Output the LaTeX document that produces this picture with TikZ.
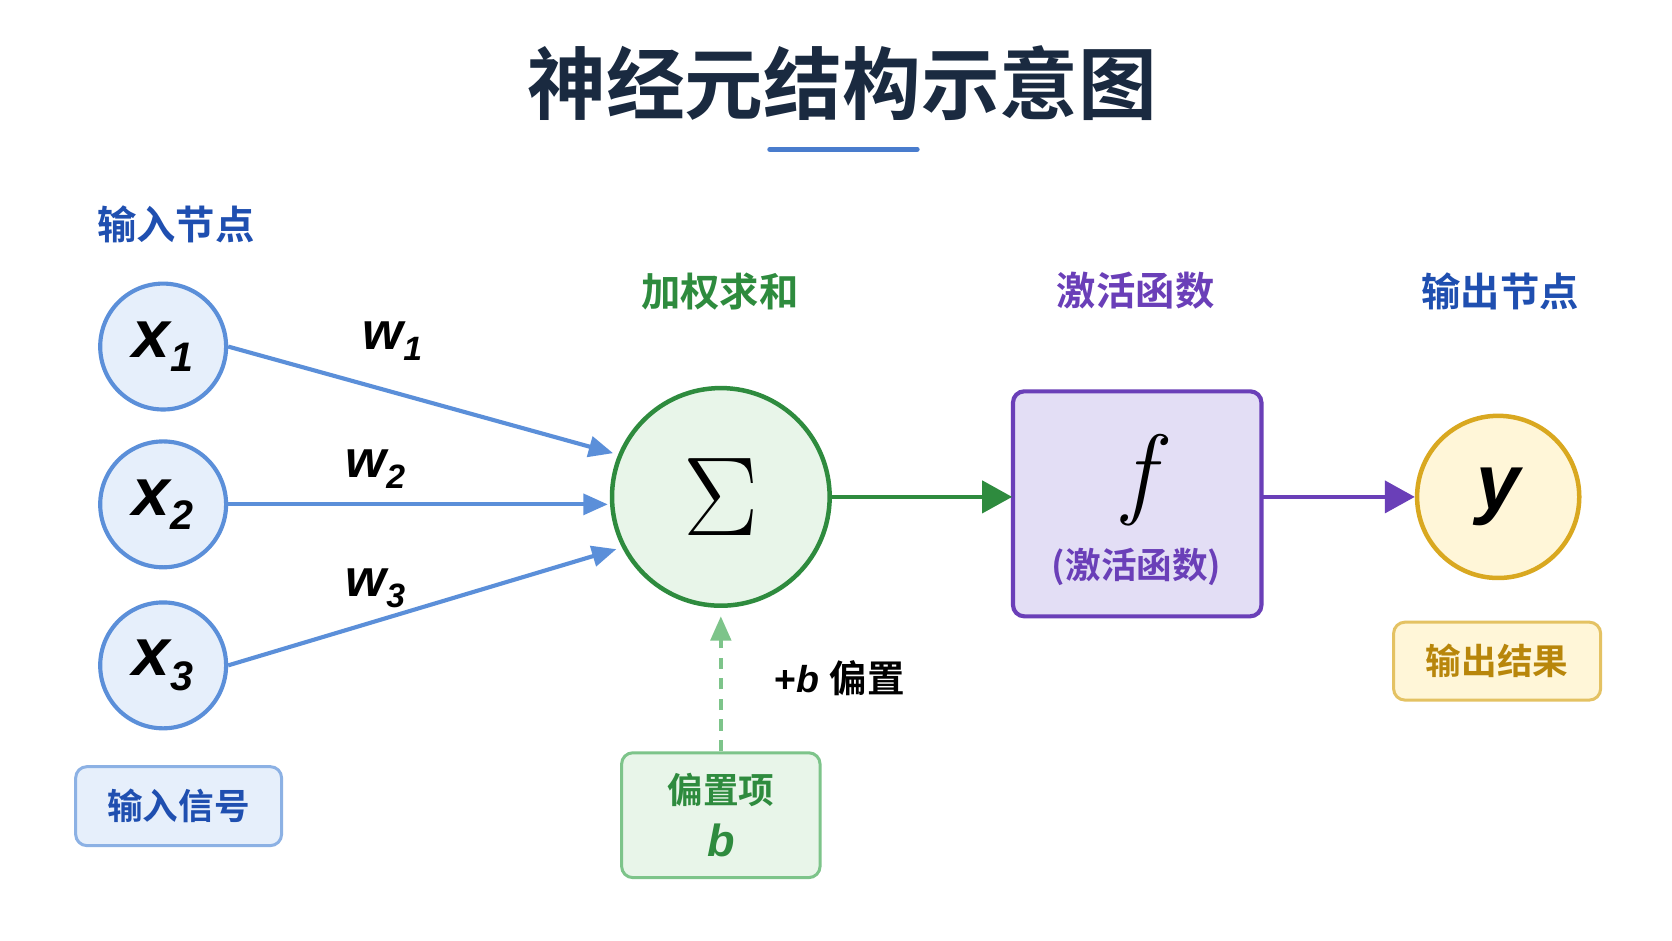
\documentclass[tikz,border=0pt]{standalone}
\usepackage{fontspec}
\setmainfont{Liberation Sans}
\newfontfamily\cjk{Noto Sans CJK SC}[BoldFont={Noto Sans CJK SC Bold}]
\newfontfamily\lmr{Latin Modern Roman}
\usetikzlibrary{arrows.meta}
\definecolor{navy}{HTML}{1A2A40}
\definecolor{bl}{HTML}{1F4FB0}
\definecolor{blline}{HTML}{5B8FD9}
\definecolor{blfill}{HTML}{E6EFFB}
\definecolor{gr}{HTML}{2E8B3E}
\definecolor{grfill}{HTML}{E8F5E9}
\definecolor{grlight}{HTML}{7DC48A}
\definecolor{pu}{HTML}{6A3FB8}
\definecolor{pufill}{HTML}{E3DEF5}
\definecolor{yl}{HTML}{D9A820}
\definecolor{ylfill}{HTML}{FFF6D8}
\definecolor{yltext}{HTML}{B8860B}
\begin{document}
\begin{tikzpicture}[x=0.01cm,y=-0.01cm,
  lab/.style={font=\cjk\bfseries\fontsize{10.5}{12}\selectfont},
  inp/.style={circle,draw=blline,fill=blfill,line width=1.1pt,minimum size=1.18cm,inner sep=0pt,font=\bfseries\itshape\fontsize{18}{19}\selectfont},
  warr/.style={draw=blline,line width=1.1pt,-{Triangle[length=6.5pt,width=5.5pt]}},
  box/.style={rounded corners=3pt,line width=0.8pt},
  btxt/.style={font=\cjk\bfseries\fontsize{9.5}{11}\selectfont}]
\useasboundingbox (0,0) rectangle (1568,882);
\fill[white] (0,0) rectangle (1568,882);
\node[font=\cjk\bfseries\fontsize{21}{23}\selectfont,text=navy] (title) at (790,78) {神经元结构示意图};
\draw[blline!70!bl,line width=1.4pt,line cap=round] (722,140) coordinate (u1) -- (860,140) coordinate (u2);
\node[lab,text=bl] (l1) at (165,210) {输入节点};
\node[lab,text=gr] (l2) at (675,273) {加权求和};
\node[lab,text=pu] (l3) at (1065,273) {激活函数};
\node[lab,text=bl] (l4) at (1407,273) {输出节点};
\node[inp] (x1) at (153,325) {x\raisebox{-0.4ex}{\fontsize{11}{11}\selectfont 1}};
\node[inp] (x2) at (153,473) {x\raisebox{-0.4ex}{\fontsize{11}{11}\selectfont 2}};
\node[inp] (x3) at (153,624) {x\raisebox{-0.4ex}{\fontsize{11}{11}\selectfont 3}};
\node[circle,draw=gr,fill=grfill,line width=1.2pt,minimum size=2.04cm,inner sep=0pt,font=\lmr\fontsize{30}{32}\selectfont] (s) at (676,466) {Σ};
\draw[box,draw=pu,fill=pufill,line width=1.1pt] (950,367) rectangle (1183,578);
\node[inner sep=0pt,minimum width=2.33cm,minimum height=1cm] (f) at (1066.5,466) {};
\node[font=\lmr\itshape\fontsize{27}{28}\selectfont] (fl) at (1068,450) {f};
\node[btxt,text=pu] (fl2) at (1066,532) {(激活函数)};
\node[circle,draw=yl,fill=ylfill,line width=1.2pt,minimum size=1.52cm,inner sep=0pt,font=\bfseries\itshape\fontsize{21}{22}\selectfont] (y) at (1405,466) {y};
\node[box,draw=yl!70,fill=ylfill,minimum width=1.94cm,minimum height=0.73cm,btxt,text=yltext] (out) at (1404,620) {输出结果};
\node[box,draw=blline!70,fill=blfill,minimum width=1.93cm,minimum height=0.74cm,btxt,text=bl] (in) at (167.5,756) {输入信号};
\node[box,draw=grlight,fill=grfill,minimum width=1.86cm,minimum height=1.17cm,align=center,text=gr] (bias) at (676,764.5) {{\cjk\bfseries\fontsize{9.5}{11}\selectfont 偏置项}\\[2pt]{\bfseries\itshape\fontsize{12}{13}\selectfont b}};
\draw[warr] (x1.east) -- (575,425);
\draw[warr] (x2.east) -- (570,473);
\draw[warr] (x3.east) -- (578,515);
\node[font=\bfseries\itshape\fontsize{14}{15}\selectfont] (w1) at (368,320) {w\raisebox{-0.4ex}{\fontsize{9}{9}\selectfont 1}};
\node[font=\bfseries\itshape\fontsize{14}{15}\selectfont] (w2) at (352,440) {w\raisebox{-0.4ex}{\fontsize{9}{9}\selectfont 2}};
\node[font=\bfseries\itshape\fontsize{14}{15}\selectfont] (w3) at (352,552) {w\raisebox{-0.4ex}{\fontsize{9}{9}\selectfont 3}};
\draw[grlight,line width=0.9pt,dash pattern=on 3pt off 2.5pt,-{Triangle[length=6.5pt,width=5.5pt]}] (bias.north) -- (676,578);
\node[font=\bfseries\fontsize{10}{12}\selectfont,anchor=west] (bl) at (714,636) {+\textit{b} {\cjk 偏置}};
\draw[gr,line width=1.2pt,-{Triangle[length=8pt,width=8.5pt]}] (s.east) -- (f.west);
\draw[pu,line width=1.2pt,-{Triangle[length=8pt,width=8.5pt]}] (f.east) -- (y.west);
\end{tikzpicture}
\end{document}
